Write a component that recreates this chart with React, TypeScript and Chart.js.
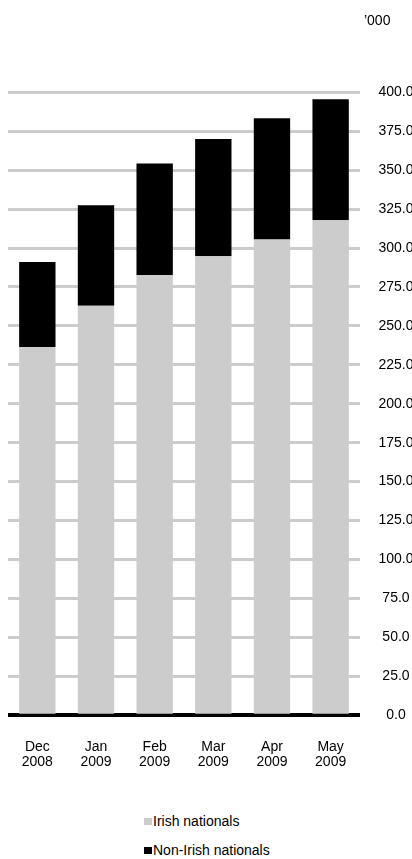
import React, { useEffect, useRef } from "react";
import { Chart, registerables } from "chart.js";

Chart.register(...registerables);

const categories: string[][] = [
  ["Dec", "2008"],
  ["Jan", "2009"],
  ["Feb", "2009"],
  ["Mar", "2009"],
  ["Apr", "2009"],
  ["May", "2009"],
];
const irishNationals: number[] = [236.4, 263.0, 282.5, 294.7, 305.5, 317.9];
const nonIrishNationals: number[] = [54.7, 64.5, 71.8, 75.3, 77.8, 77.6];
const seriesLabels: string[] = ["Irish nationals", "Non-Irish nationals"];
const seriesColors: string[] = ["#cccccc", "#000000"];
const unitLabel = "\u2019000";
const yMin = 0;
const yMax = 400;
const yStep = 25;

const FONT = "'Liberation Sans', Arial, Helvetica, sans-serif";

const unitPlugin = {
  id: "unitLabel",
  afterDraw(chart: any) {
    const { ctx, chartArea } = chart;
    ctx.save();
    ctx.font = `14px ${FONT}`;
    ctx.fillStyle = "#000";
    ctx.textAlign = "left";
    ctx.textBaseline = "middle";
    ctx.fillText(unitLabel, chartArea.right + 4, 13);
    ctx.restore();
  },
};

export default function App() {
  const canvasRef = useRef<HTMLCanvasElement | null>(null);

  useEffect(() => {
    if (!canvasRef.current) return;
    const chart = new Chart(canvasRef.current, {
      type: "bar",
      data: {
        labels: categories,
        datasets: [
          {
            label: seriesLabels[0],
            data: irishNationals,
            backgroundColor: seriesColors[0],
            borderWidth: 0,
          },
          {
            label: seriesLabels[1],
            data: nonIrishNationals,
            backgroundColor: seriesColors[1],
            borderWidth: 0,
          },
        ],
      },
      options: {
        animation: false,
        responsive: false,
        maintainAspectRatio: false,
        devicePixelRatio: 1,
        layout: { padding: { top: 84.3, bottom: 10, left: 0, right: 0 } },
        datasets: {
          bar: { categoryPercentage: 1, barPercentage: 0.62 },
        },
        plugins: {
          legend: { display: false },
          tooltip: { enabled: false },
          title: { display: false },
        },
        scales: {
          x: {
            stacked: true,
            grid: { display: false, drawTicks: false },
            border: { display: true, color: "#000", width: 4 },
            afterFit: (scale: any) => {
              scale.paddingLeft = 0;
              scale.paddingRight = 0;
            },
            ticks: {
              color: "#000",
              font: { family: FONT, size: 14, lineHeight: 1.1 },
              padding: 24,
              maxRotation: 0,
              autoSkip: false,
            },
          },
          y: {
            stacked: true,
            position: "right",
            min: yMin,
            max: yMax,
            grid: { color: "#cccccc", lineWidth: 3, drawTicks: false },
            border: { display: false },
            afterFit: (scale: any) => {
              scale.paddingTop = 0;
              scale.paddingBottom = 0;
            },
            ticks: {
              stepSize: yStep,
              color: "#000",
              font: { family: FONT, size: 14 },
              crossAlign: "center",
              padding: 18.5,
              callback: (v: any) => Number(v).toFixed(1),
            },
          },
        },
      },
      plugins: [unitPlugin],
    });
    return () => chart.destroy();
  }, []);

  return (
    <div
      style={{
        position: "fixed",
        left: 0,
        top: 0,
        width: 412,
        height: 859,
        overflow: "hidden",
        background: "#fff",
        fontFamily: FONT,
      }}
    >
      <canvas
        ref={canvasRef}
        width={424}
        height={796}
        style={{ position: "absolute", left: 8, top: 8, width: 424, height: 796 }}
      />
      {seriesLabels.map((label, i) => (
        <div
          key={label}
          style={{
            position: "absolute",
            left: 144,
            top: 821 + i * 29 - 9,
            height: 18,
            display: "flex",
            alignItems: "center",
            fontSize: 14,
            color: "#000",
            whiteSpace: "nowrap",
          }}
        >
          <span
            style={{
              display: "inline-block",
              width: 8,
              height: 7,
              background: seriesColors[i],
              marginRight: 1,
            }}
          />
          {label}
        </div>
      ))}
    </div>
  );
}
